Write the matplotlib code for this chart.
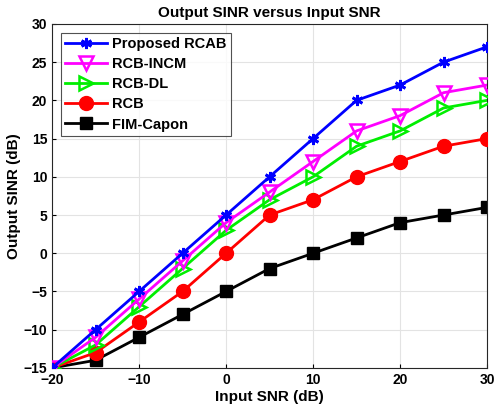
import matplotlib
matplotlib.use("Agg")
import matplotlib.pyplot as plt

plt.rcParams['font.family'] = ['Liberation Sans', 'DejaVu Sans']
plt.rcParams['font.weight'] = 'bold'

snr = [-20, -15, -10, -5, 0, 5, 10, 15, 20, 25, 30]
rcab = [-15, -10, -5, 0, 5, 10, 15, 20, 22, 25, 27]
incm = [-15, -11, -6, -1, 4, 8, 12, 16, 18, 21, 22]
dl = [-15, -12, -7, -2, 3, 7, 10, 14, 16, 19, 20]
rcb = [-15, -13, -9, -5, 0, 5, 7, 10, 12, 14, 15]
fim = [-15, -14, -11, -8, -5, -2, 0, 2, 4, 5, 6]
labels = ["Proposed RCAB", "RCB-INCM", "RCB-DL", "RCB", "FIM-Capon"]

fig = plt.figure(figsize=(4.96, 4.12), dpi=100)
ax = fig.add_axes([0.105, 0.107, 0.877, 0.835])

lw = 2
ax.plot(snr, rcab, color='#0000ff', lw=lw, marker=(6, 2, 0), ms=8, mew=2, label=labels[0], zorder=6)
ax.plot(snr, incm, color='#ff00ff', lw=lw, marker='v', ms=10, mfc='none', mew=1.8, label=labels[1], zorder=5)
ax.plot(snr, dl, color='#00ee00', lw=lw, marker='>', ms=10, mfc='none', mew=1.8, label=labels[2], zorder=4)
ax.plot(snr, rcb, color='#ff0000', lw=lw, marker='o', ms=10, label=labels[3], zorder=3)
ax.plot(snr, fim, color='black', lw=lw, marker='s', ms=8, label=labels[4], zorder=2)

ax.set_xlim(-20, 30)
ax.set_ylim(-15, 30)
ax.set_xticks([-20, -10, 0, 10, 20, 30])
ax.set_yticks(range(-15, 31, 5))
ax.grid(True, color='#e3e3e3', lw=0.8)
ax.set_axisbelow(True)
ax.tick_params(labelsize=10, direction='in', length=3, width=0.8)
for lab in ax.get_xticklabels() + ax.get_yticklabels():
    lab.set_fontweight('bold')
for s in ax.spines.values():
    s.set_linewidth(0.8)
    s.set_color('#262626')

ax.set_xlabel("Input SNR (dB)", fontsize=11, fontweight='bold', labelpad=2)
ax.set_ylabel("Output SINR (dB)", fontsize=11, fontweight='bold', labelpad=2)
ax.set_title("Output SINR versus Input SNR", fontsize=11, fontweight='bold', pad=5)

leg = ax.legend(loc='upper left', fontsize=10.5, frameon=True, fancybox=False,
                edgecolor='#262626', borderpad=0.3, labelspacing=0.42,
                handlelength=2.9, handletextpad=0.3, borderaxespad=0.6)
leg.get_frame().set_linewidth(0.8)
for t in leg.get_texts():
    t.set_fontweight('bold')

fig.savefig("out.png", dpi=100)
